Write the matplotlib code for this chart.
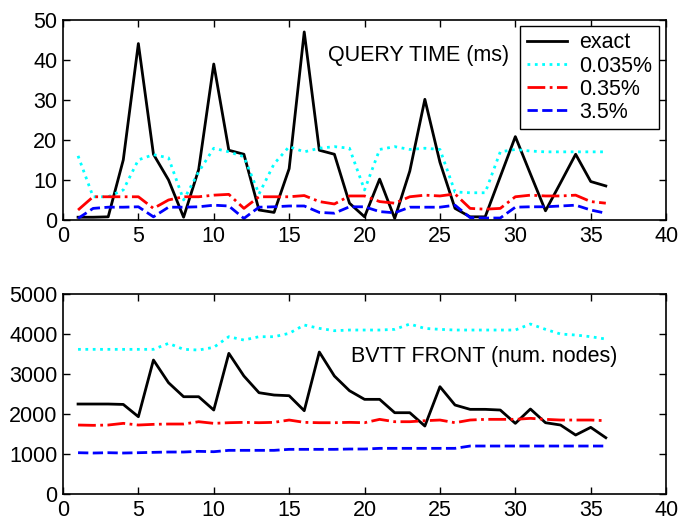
import matplotlib
matplotlib.use("Agg")
import matplotlib.pyplot as plt

plt.rcParams['font.family'] = ['Liberation Sans', 'DejaVu Sans']

# frame index
frames = list(range(1, 37))

# query time (ms)
qt_exact = [0.7, 0.7, 0.8, 15, 44, 16.4, 10, 0.7, 12.6, 38.9, 17.4, 16.4, 2.5, 1.9, 12.8, 46.9, 17.4, 16.4,
            4.2, 0.8, 10.2, 0.4, 12.2, 30.1, 14.4, 2.9, 0.8, 0.8, 10.8, 20.8, 11.5, 2.3, 9.3, 16.4, 9.6, 8.5]
qt_0035 = [16, 5.8, 5.8, 7.5, 15, 16.3, 15.5, 5, 12, 17.9, 17, 15.8, 6.5, 14, 18.3, 17, 17.9, 18.3,
           17.9, 7.5, 17.6, 18.3, 17.6, 17.9, 17.6, 7, 6.8, 6.8, 17, 17.6, 17.2, 17, 17, 17, 17, 17]
qt_035 = [2.5, 5.8, 5.8, 5.8, 5.8, 2.9, 5, 5.8, 5.8, 6.2, 6.4, 2.9, 5.8, 5.8, 5.8, 6.1, 4.6, 4,
          6, 6, 4.6, 4.2, 5.8, 6.2, 6, 6.5, 2.9, 2.7, 2.9, 5.8, 6.2, 6, 6, 6.2, 4.6, 4.2]
qt_35 = [0.4, 2.9, 3.2, 3.2, 3.3, 0.8, 3.2, 3.2, 3.3, 3.7, 3.5, 0.4, 3.2, 3.3, 3.5, 3.5, 1.9, 1.7,
         3.3, 3.3, 2.1, 1.8, 3.2, 3.2, 3.2, 3.7, 0.6, 0.5, 0.5, 3.2, 3.3, 3.3, 3.5, 3.7, 2.5, 1.7]

# BVTT front size (num. nodes)
bf_exact = [2250, 2250, 2250, 2240, 1933, 3350, 2783, 2433, 2433, 2100, 3517, 2950, 2533, 2475, 2458, 2083,
            3550, 2950, 2583, 2367, 2367, 2033, 2033, 1700, 2683, 2225, 2117, 2117, 2100, 1767, 2125, 1783,
            1725, 1475, 1667, 1408]
bf_0035 = [3617, 3617, 3617, 3617, 3617, 3617, 3767, 3617, 3600, 3667, 3933, 3850, 3933, 3933, 4017, 4225,
           4142, 4083, 4100, 4100, 4100, 4117, 4250, 4140, 4117, 4100, 4100, 4100, 4100, 4100, 4250, 4117,
           4000, 3975, 3933, 3875]
bf_035 = [1725, 1717, 1725, 1767, 1725, 1742, 1750, 1750, 1808, 1767, 1783, 1792, 1783, 1792, 1850, 1792,
          1783, 1783, 1792, 1783, 1867, 1808, 1808, 1833, 1850, 1783, 1850, 1867, 1867, 1867, 1892, 1867,
          1850, 1850, 1850, 1833]
bf_35 = [1033, 1025, 1033, 1025, 1033, 1042, 1050, 1050, 1067, 1058, 1092, 1092, 1092, 1092, 1117, 1117,
         1117, 1117, 1125, 1125, 1142, 1142, 1142, 1142, 1142, 1142, 1200, 1200, 1200, 1200, 1200, 1200,
         1200, 1200, 1200, 1200]

labels = ['exact', '0.035%', '0.35%', '3.5%']
styles = [dict(color='black', linestyle='-', linewidth=2.0),
          dict(color='cyan', linestyle=':', linewidth=2.0),
          dict(color='red', linestyle='-.', linewidth=2.0),
          dict(color='blue', linestyle='--', linewidth=2.0)]

fig = plt.figure(figsize=(6.8, 5.23), dpi=100)
ax1 = fig.add_axes([0.0926, 0.5793, 0.887, 0.3834])
ax2 = fig.add_axes([0.0926, 0.0554, 0.887, 0.3824])

for ys, lab, st in zip([qt_exact, qt_0035, qt_035, qt_35], labels, styles):
    ax1.plot(frames, ys, label=lab, **st)
for ys, st in zip([bf_exact, bf_0035, bf_035, bf_35], styles):
    ax2.plot(frames, ys, **st)

ax1.set_xlim(0, 40)
ax1.set_ylim(0, 50)
ax1.set_yticks([0, 10, 20, 30, 40, 50])
ax2.set_xlim(0, 40)
ax2.set_ylim(0, 5000)
ax2.set_yticks([0, 1000, 2000, 3000, 4000, 5000])

for ax in (ax1, ax2):
    ax.set_xticks([0, 5, 10, 15, 20, 25, 30, 35, 40])
    ax.tick_params(direction='in', top=True, right=True, labelsize=15.5, length=5, width=1, pad=4)
    for sp in ax.spines.values():
        sp.set_linewidth(1.2)

ax1.text(17.6, 41, 'QUERY TIME (ms)', fontsize=15.5, va='center', ha='left')
ax2.text(19.1, 3450, 'BVTT FRONT (num. nodes)', fontsize=15.5, va='center', ha='left')

leg = ax1.legend(loc='upper right', bbox_to_anchor=(0.988, 0.968), fontsize=15.5, fancybox=False,
                 framealpha=1, edgecolor='black', borderaxespad=0, labelspacing=0.1,
                 handlelength=1.85, handletextpad=0.6, borderpad=0.3)
leg.get_frame().set_linewidth(1.0)

plt.savefig('out.png', dpi=100)
